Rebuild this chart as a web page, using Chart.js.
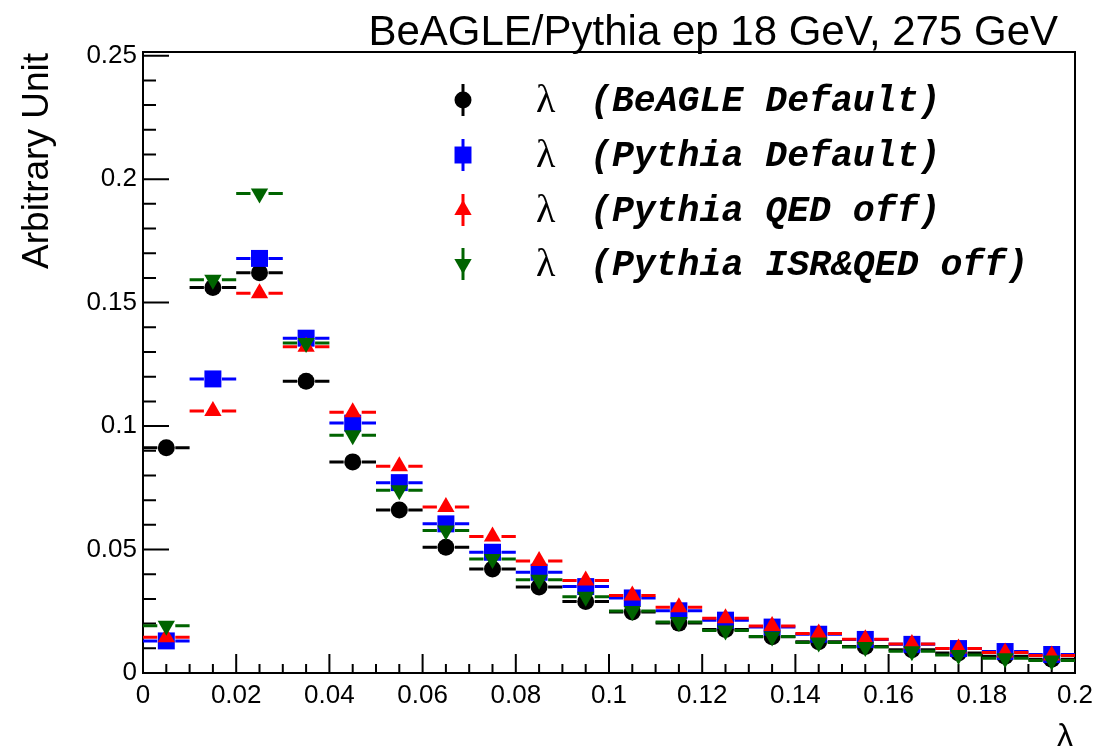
<!DOCTYPE html>
<html>
<head>
<meta charset="utf-8">
<script src="https://cdn.jsdelivr.net/npm/chart.js@4.4.1/dist/chart.umd.min.js"></script>
<style>
  html, body { margin: 0; padding: 0; background: #fff; }
  #wrap { width: 1095px; height: 751px; position: relative; }
</style>
</head>
<body>
<div id="wrap"><canvas id="chart"></canvas></div>
<script>
// bin centres (bin width 0.01)
const binCenters = [0.005, 0.015, 0.025, 0.035, 0.045, 0.055, 0.065, 0.075, 0.085, 0.095,
                    0.105, 0.115, 0.125, 0.135, 0.145, 0.155, 0.165, 0.175, 0.185, 0.195];
const binHalfWidth = 0.005;

const beagleDefault   = [0.0912, 0.1561, 0.1621, 0.1182, 0.0855, 0.0660, 0.0509, 0.0421, 0.0348, 0.0290,
                         0.0247, 0.0202, 0.0176, 0.0147, 0.0127, 0.0107, 0.0094, 0.0081, 0.0068, 0.0056];
const pythiaDefault   = [0.0130, 0.1191, 0.1679, 0.1356, 0.1012, 0.0771, 0.0604, 0.0489, 0.0408, 0.0350,
                         0.0304, 0.0252, 0.0214, 0.0186, 0.0157, 0.0136, 0.0116, 0.0099, 0.0087, 0.0075];
const pythiaQEDoff    = [0.0145, 0.1061, 0.1538, 0.1321, 0.1056, 0.0837, 0.0672, 0.0553, 0.0454, 0.0375,
                         0.0314, 0.0266, 0.0222, 0.0190, 0.0160, 0.0137, 0.0117, 0.0099, 0.0083, 0.0071];
const pythiaISRQEDoff = [0.0191, 0.1593, 0.1942, 0.1336, 0.0963, 0.0740, 0.0577, 0.0462, 0.0378, 0.0309,
                         0.0251, 0.0207, 0.0172, 0.0148, 0.0124, 0.0105, 0.0088, 0.0073, 0.0060, 0.0051];

const seriesNames = ['(BeAGLE Default)', '(Pythia Default)', '(Pythia QED off)', '(Pythia ISR&QED off)'];
const xTickValues = [0, 0.02, 0.04, 0.06, 0.08, 0.1, 0.12, 0.14, 0.16, 0.18, 0.2];
const yTickValues = [0, 0.05, 0.1, 0.15, 0.2, 0.25];

const plotTitle = 'BeAGLE/Pythia ep 18 GeV, 275 GeV';
const xTitle = 'λ';
const yTitle = 'Arbitrary Unit';

const SANS = "'Liberation Sans', Arial, Helvetica, sans-serif";

const styles = [
  { color: '#000000', pointStyle: 'circle',   radius: 8.5, rotation: 0 },
  { color: '#0000ff', pointStyle: 'rect',     radius: 12,  rotation: 0 },
  { color: '#ff0000', pointStyle: 'triangle', radius: 10,  rotation: 0 },
  { color: '#006400', pointStyle: 'triangle', radius: 10,  rotation: 180 }
];

const fmt = (v) => String(parseFloat(Number(v).toFixed(4)));

const datasets = [beagleDefault, pythiaDefault, pythiaQEDoff, pythiaISRQEDoff].map((vals, i) => ({
  label: seriesNames[i],
  data: binCenters.map((x, k) => ({ x: x, y: vals[k] })),
  showLine: false,
  pointStyle: styles[i].pointStyle,
  pointRadius: styles[i].radius,
  pointHoverRadius: styles[i].radius,
  pointRotation: styles[i].rotation,
  pointBackgroundColor: styles[i].color,
  pointBorderWidth: 0,
  borderColor: styles[i].color,
  backgroundColor: styles[i].color,
  order: 4 - i
}));

// horizontal bin-width bars, drawn just under each dataset's markers
const binErrors = {
  id: 'binErrors',
  beforeDatasetDraw(chart, args) {
    const ds = chart.data.datasets[args.index];
    const xs = chart.scales.x, ys = chart.scales.y, ctx = chart.ctx;
    const gap = 9;
    ctx.save();
    ctx.strokeStyle = ds.borderColor;
    ctx.lineWidth = 3;
    ctx.beginPath();
    ds.data.forEach((p) => {
      const x0 = xs.getPixelForValue(p.x - binHalfWidth);
      const x1 = xs.getPixelForValue(p.x + binHalfWidth);
      const xc = xs.getPixelForValue(p.x);
      const y = ys.getPixelForValue(p.y);
      ctx.moveTo(x0, y); ctx.lineTo(xc - gap, y);
      ctx.moveTo(xc + gap, y); ctx.lineTo(x1, y);
    });
    ctx.stroke();
    ctx.restore();
  }
};

// ROOT-like frame with inward ticks
const rootFrame = {
  id: 'rootFrame',
  beforeDatasetsDraw(chart) {
    const { ctx, chartArea: a, scales: { x, y } } = chart;
    ctx.save();
    ctx.strokeStyle = '#000';
    ctx.lineWidth = 2;
    ctx.strokeRect(a.left, a.top, a.right - a.left, a.bottom - a.top);
    ctx.beginPath();
    for (let i = 0; i <= 40; i++) {
      const px = x.getPixelForValue(i * 0.005);
      const len = i % 4 === 0 ? 19 : 9;
      ctx.moveTo(px, a.bottom); ctx.lineTo(px, a.bottom - len);
    }
    for (let i = 0; i <= 25; i++) {
      const py = y.getPixelForValue(i * 0.01);
      const len = i % 5 === 0 ? 26 : 13;
      ctx.moveTo(a.left, py); ctx.lineTo(a.left + len, py);
    }
    ctx.stroke();
    ctx.restore();
  }
};

// title, axis titles and legend
const annotations = {
  id: 'annotations',
  afterDraw(chart) {
    const { ctx, chartArea: a } = chart;
    ctx.save();
    ctx.fillStyle = '#000';
    ctx.font = '42px ' + SANS;
    ctx.textAlign = 'right';
    ctx.textBaseline = 'alphabetic';
    ctx.fillText(plotTitle, 1058, 45);

    ctx.font = '32px ' + SANS;
    ctx.fillText(xTitle, a.right - 2, 746);

    ctx.save();
    ctx.translate(48, a.top + 1);
    ctx.rotate(-Math.PI / 2);
    ctx.font = '37px ' + SANS;
    ctx.textAlign = 'right';
    ctx.fillText(yTitle, 0, 0);
    ctx.restore();

    const rows = [100, 155, 210, 264];
    chart.data.datasets.forEach((ds, i) => {
      const yRow = rows[i], xm = 463;
      ctx.strokeStyle = styles[i].color;
      ctx.lineWidth = 3;
      ctx.beginPath();
      ctx.moveTo(xm, yRow - 16); ctx.lineTo(xm, yRow + 16);
      ctx.stroke();
      ctx.fillStyle = styles[i].color;
      Chart.helpers.drawPoint(ctx, {
        pointStyle: styles[i].pointStyle,
        radius: styles[i].radius,
        rotation: styles[i].rotation,
        borderWidth: 0
      }, xm, yRow);
      ctx.fillStyle = '#000';
      ctx.textAlign = 'left';
      ctx.font = '40px ' + "'Liberation Serif', 'DejaVu Serif', serif";
      ctx.fillText('λ', 536, yRow + 12);
      ctx.font = 'italic bold 36.5px ' + "'Liberation Mono', 'DejaVu Sans Mono', monospace";
      ctx.fillText(ds.label, 590, yRow + 11);
    });
    ctx.restore();
  }
};

new Chart(document.getElementById('chart'), {
  type: 'scatter',
  data: { datasets: datasets },
  options: {
    responsive: true,
    maintainAspectRatio: false,
    animation: false,
    events: [],
    layout: { padding: { top: 52, right: 20, left: 0, bottom: 0 } },
    plugins: {
      legend: { display: false },
      tooltip: { enabled: false },
      title: { display: false }
    },
    scales: {
      x: {
        type: 'linear', min: 0, max: 0.2,
        grid: { display: false, drawTicks: false },
        border: { display: false },
        ticks: {
          color: '#000', padding: 7, maxRotation: 0, autoSkip: false,
          font: { family: SANS, size: 26 },
          callback: (v) => fmt(v)
        },
        afterBuildTicks: (s) => { s.ticks = xTickValues.map((v) => ({ value: v })); },
        afterFit: (s) => { s.height = 78; s.paddingLeft = 0; s.paddingRight = 0; }
      },
      y: {
        type: 'linear', min: 0, max: 0.2515,
        grid: { display: false, drawTicks: false },
        border: { display: false },
        ticks: {
          color: '#000', padding: 6, autoSkip: false,
          font: { family: SANS, size: 26 },
          callback: (v) => fmt(v)
        },
        afterBuildTicks: (s) => { s.ticks = yTickValues.map((v) => ({ value: v })); },
        afterFit: (s) => { s.width = 143; s.paddingTop = 0; s.paddingBottom = 0; }
      }
    }
  },
  plugins: [rootFrame, binErrors, annotations]
});
</script>
</body>
</html>
